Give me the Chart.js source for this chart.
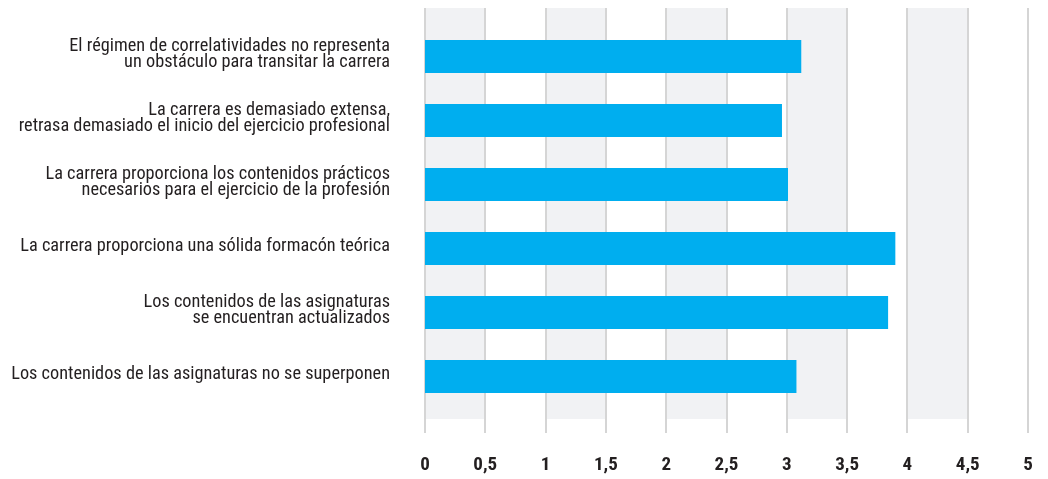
<!DOCTYPE html>
<html>
<head>
<meta charset="utf-8">
<script src="https://cdn.jsdelivr.net/npm/chart.js@4.4.1/dist/chart.umd.min.js"></script>
<style>
  html, body { margin: 0; padding: 0; background: #ffffff; }
  #wrap { width: 1048px; height: 479px; position: relative; }
</style>
</head>
<body>
<div id="wrap"><canvas id="c" width="1048" height="479"></canvas></div>
<script>
const categories = [
  ["El régimen de correlatividades no representa", "un obstáculo para transitar la carrera"],
  ["La carrera es demasiado extensa,", "retrasa demasiado el inicio del ejercicio profesional"],
  ["La carrera proporciona los contenidos prácticos", "necesarios para el ejercicio de la profesión"],
  "La carrera proporciona una sólida formacón teórica",
  ["Los contenidos de las asignaturas", "se encuentran actualizados"],
  "Los contenidos de las asignaturas no se superponen"
];
const values = [3.12, 2.96, 3.01, 3.90, 3.84, 3.08];
const tickValues = [0, 0.5, 1, 1.5, 2, 2.5, 3, 3.5, 4, 4.5, 5];
const tickLabels = ["0", "0,5", "1", "1,5", "2", "2,5", "3", "3,5", "4", "4,5", "5"];
const shadedBands = [[0, 0.5], [1, 1.5], [2, 2.5], [3, 3.5], [4, 4.5]];

const LABEL_FONT = '"Roboto Condensed", "Open Sans Condensed", "DejaVu Sans Condensed", sans-serif';

const bandsPlugin = {
  id: 'bands',
  beforeDatasetsDraw(chart) {
    const ctx = chart.ctx;
    const xs = chart.scales.x;
    const top = 8, shadeBottom = 419, lineBottom = 433;
    ctx.save();
    ctx.fillStyle = '#F1F2F4';
    shadedBands.forEach(([a, b]) => {
      const x1 = xs.getPixelForValue(a), x2 = xs.getPixelForValue(b);
      ctx.fillRect(x1, top, x2 - x1, shadeBottom - top);
    });
    ctx.strokeStyle = '#D5D5D5';
    ctx.lineWidth = 2;
    tickValues.forEach(v => {
      const x = Math.round(xs.getPixelForValue(v));
      ctx.beginPath();
      ctx.moveTo(x, top);
      ctx.lineTo(x, lineBottom);
      ctx.stroke();
    });
    ctx.restore();
  }
};

new Chart(document.getElementById('c'), {
  type: 'bar',
  data: {
    labels: categories,
    datasets: [{
      data: values,
      backgroundColor: '#00AEEF',
      borderWidth: 0,
      categoryPercentage: 1,
      barPercentage: 0.515
    }]
  },
  options: {
    indexAxis: 'y',
    responsive: false,
    animation: false,
    layout: { padding: { top: 24.5, right: 20, left: 0, bottom: 0 } },
    plugins: { legend: { display: false }, tooltip: { enabled: false } },
    scales: {
      x: {
        type: 'linear',
        min: 0,
        max: 5,
        afterBuildTicks(scale) { scale.ticks = tickValues.map(v => ({ value: v })); },
        afterFit(scale) {
          scale.height = 70.5;
          scale.paddingLeft = 0; scale.paddingRight = 0;
          scale.paddingTop = 0; scale.paddingBottom = 0;
        },
        grid: { display: false, drawTicks: false },
        border: { display: false },
        ticks: {
          autoSkip: false,
          maxRotation: 0,
          padding: 45.5,
          color: '#231F20',
          font: { family: LABEL_FONT, size: 19, weight: 'bold', lineHeight: 1.2 },
          callback(value, index) { return tickLabels[index]; }
        }
      },
      y: {
        afterFit(scale) {
          scale.width = 425;
          scale.paddingTop = 0; scale.paddingBottom = 0;
          scale.paddingLeft = 0; scale.paddingRight = 0;
        },
        grid: { display: false, drawTicks: false },
        border: { display: false },
        ticks: {
          padding: 35,
          labelOffset: -2.5,
          color: '#231F20',
          font: { family: LABEL_FONT, size: 18.3, lineHeight: '16px' }
        }
      }
    }
  },
  plugins: [bandsPlugin]
});
</script>
</body>
</html>
